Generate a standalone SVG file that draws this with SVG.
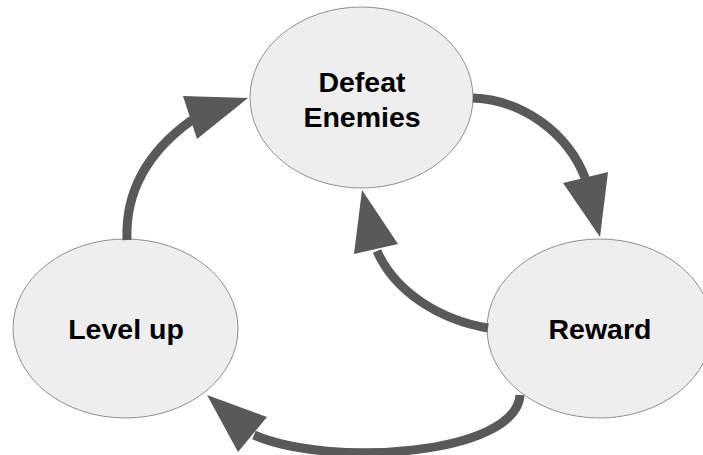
<svg xmlns="http://www.w3.org/2000/svg" width="703" height="455" viewBox="0 0 703 455">
<style>
.node ellipse{fill:#eeeeee;stroke:#8f8f8f;stroke-width:1}
.node text{font-family:"Liberation Sans",Arial,sans-serif;font-weight:bold;font-size:28.5px;fill:#000;text-anchor:middle}
.edge path{fill:none;stroke:#595959;stroke-width:9}
.edge polygon{fill:#595959;stroke:none}
</style>
<rect width="703" height="455" fill="#fff"/>
<g id="defeat-enemies" class="node">
<ellipse cx="361.5" cy="97.5" rx="111.5" ry="90.5"/>
<text x="362" y="92">Defeat</text>
<text x="362" y="127">Enemies</text>
</g>
<g id="level-up" class="node">
<ellipse cx="125.5" cy="328.5" rx="112.5" ry="89.5"/>
<text x="126" y="339">Level up</text>
</g>
<g id="reward" class="node">
<ellipse cx="599.5" cy="328.5" rx="112.5" ry="89.5"/>
<text x="600" y="339">Reward</text>
</g>
<g id="connectors" class="edge">
<path d="M473,98 C522,100 568,132 586,180"/>
<polygon points="600,237 563,183 608,172"/>
<path d="M127,240 C125,190 150,150 192,120"/>
<polygon points="248,98 183,96 197,139"/>
<path d="M488,328 C440,320 395,292 377,251"/>
<polygon points="362,190 354,254 398,244"/>
<path d="M520,395 C516,455 330,468 254,435"/>
<polygon points="207,395 267,417 238,452"/>
</g>
</svg>
